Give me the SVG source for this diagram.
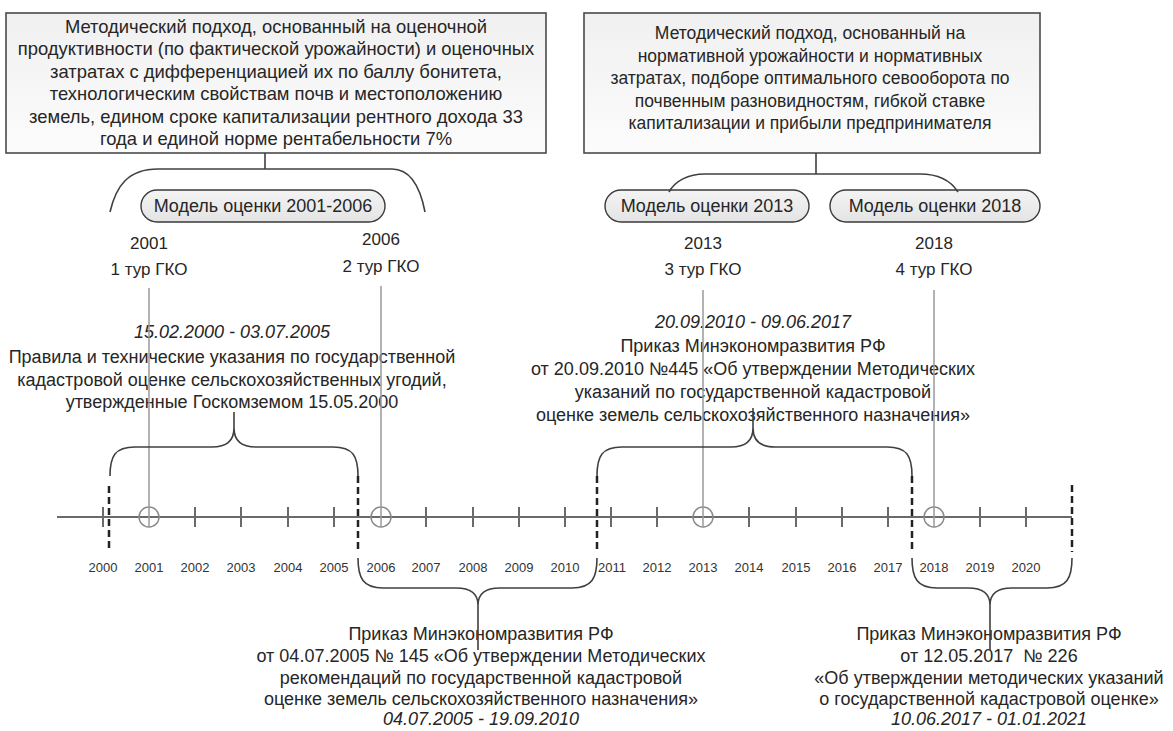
<svg xmlns="http://www.w3.org/2000/svg" width="1173" height="731" viewBox="0 0 1173 731">
<defs>
<linearGradient id="boxg" x1="0" y1="0" x2="0" y2="1"><stop offset="0" stop-color="#f0f0f0"/><stop offset="1" stop-color="#fcfcfc"/></linearGradient>
<linearGradient id="pillg" x1="0" y1="0" x2="0" y2="1"><stop offset="0" stop-color="#f4f4f4"/><stop offset="1" stop-color="#e4e4e4"/></linearGradient>
<style>
text{font-family:"Liberation Sans",Arial,sans-serif;fill:#262626;text-anchor:middle;dominant-baseline:central}
.b1{font-size:18.4px}
.b2{font-size:17.5px}
.pt{font-size:18px}
.tl{font-size:17px}
.t{font-size:18px}
.it{font-size:18px;font-style:italic}
.yr{font-size:13px;fill:#333}
.box{fill:url(#boxg);stroke:#4a4a4a;stroke-width:1.6}
.pill{fill:url(#pillg);stroke:#3a3a3a;stroke-width:1.4}
.con{fill:none;stroke:#404040;stroke-width:1.6}
.tour{stroke:#9a9a9a;stroke-width:1.5;fill:none}
.axis{stroke:#6a6a6a;stroke-width:2;fill:none}
.tick{stroke:#6a6a6a;stroke-width:2}
.circ{fill:none;stroke:#8a8a8a;stroke-width:1.5}
.dash{stroke:#222;stroke-width:2.5;stroke-dasharray:7 4;fill:none}
</style>
</defs>

<g id="box1">
<rect class="box" x="6" y="13" width="540" height="140"/>
<text class="b1" x="276" y="26">Методический подход, основанный на оценочной</text>
<text class="b1" x="276" y="48.5">продуктивности (по фактической урожайности) и оценочных</text>
<text class="b1" x="276" y="71">затратах с дифференциацией их по баллу бонитета,</text>
<text class="b1" x="276" y="93.5">технологическим свойствам почв и местоположению</text>
<text class="b1" x="276" y="116">земель, едином сроке капитализации рентного дохода 33</text>
<text class="b1" x="276" y="138.5">года и единой норме рентабельности 7%</text>
</g>

<g id="box2">
<rect class="box" x="584" y="13" width="456" height="140"/>
<text class="b2" x="810" y="33">Методический подход, основанный на</text>
<text class="b2" x="810" y="55.5">нормативной урожайности и нормативных</text>
<text class="b2" x="810" y="78">затратах, подборе оптимального севооборота по</text>
<text class="b2" x="810" y="100.5">почвенным разновидностям, гибкой ставке</text>
<text class="b2" x="810" y="123">капитализации и прибыли предпринимателя</text>
</g>

<g id="pill2001">
<rect class="pill" x="141" y="190" width="244" height="32" rx="16"/>
<text class="pt" x="263" y="206">Модель оценки 2001-2006</text>
</g>
<g id="pill2013">
<rect class="pill" x="605" y="190" width="204" height="32" rx="16"/>
<text class="pt" x="707" y="206">Модель оценки 2013</text>
</g>
<g id="pill2018">
<rect class="pill" x="830" y="190" width="210" height="32" rx="16"/>
<text class="pt" x="935" y="206">Модель оценки 2018</text>
</g>

<g id="tour1"><text class="tl" x="149" y="243">2001</text><text class="tl" x="149" y="269">1 тур ГКО</text></g>
<g id="tour2"><text class="tl" x="381" y="239">2006</text><text class="tl" x="381" y="266">2 тур ГКО</text></g>
<g id="tour3"><text class="tl" x="703" y="243">2013</text><text class="tl" x="703" y="269">3 тур ГКО</text></g>
<g id="tour4"><text class="tl" x="934" y="243">2018</text><text class="tl" x="934" y="269">4 тур ГКО</text></g>

<g id="doc1">
<text class="it" x="232" y="332">15.02.2000 - 03.07.2005</text>
<text class="t" x="232" y="357">Правила и технические указания по государственной</text>
<text class="t" x="232" y="380">кадастровой оценке сельскохозяйственных угодий,</text>
<text class="t" x="232" y="402">утвержденные Госкомземом 15.05.2000</text>
</g>

<g id="doc3">
<text class="it" x="753" y="322">20.09.2010 - 09.06.2017</text>
<text class="t" x="753" y="346">Приказ Минэкономразвития РФ</text>
<text class="t" x="753" y="369">от 20.09.2010 №445 «Об утверждении Методических</text>
<text class="t" x="753" y="392">указаний по государственной кадастровой</text>
<text class="t" x="753" y="415">оценке земель сельскохозяйственного назначения»</text>
</g>

<g id="doc2">
<text class="t" x="481" y="634">Приказ Минэкономразвития РФ</text>
<text class="t" x="481" y="656">от 04.07.2005 № 145 «Об утверждении Методических</text>
<text class="t" x="481" y="678">рекомендаций по государственной кадастровой</text>
<text class="t" x="481" y="699">оценке земель сельскохозяйственного назначения»</text>
<text class="it" x="481" y="719">04.07.2005 - 19.09.2010</text>
</g>

<g id="doc4">
<text class="t" x="989" y="634">Приказ Минэкономразвития РФ</text>
<text class="t" x="989" y="656" xml:space="preserve">от 12.05.2017  № 226</text>
<text class="t" x="989" y="678">«Об утверждении методических указаний</text>
<text class="t" x="989" y="699">о государственной кадастровой оценке»</text>
<text class="it" x="989" y="719">10.06.2017 - 01.01.2021</text>
</g>

<g id="timeline">
<line class="axis" x1="57" y1="517" x2="1072" y2="517"/>
<g class="tick">
<line x1="103" y1="507" x2="103" y2="527"/>
<line x1="195" y1="507" x2="195" y2="527"/>
<line x1="241" y1="507" x2="241" y2="527"/>
<line x1="288" y1="507" x2="288" y2="527"/>
<line x1="334" y1="507" x2="334" y2="527"/>
<line x1="426" y1="507" x2="426" y2="527"/>
<line x1="473" y1="507" x2="473" y2="527"/>
<line x1="519" y1="507" x2="519" y2="527"/>
<line x1="565" y1="507" x2="565" y2="527"/>
<line x1="611" y1="507" x2="611" y2="527"/>
<line x1="657" y1="507" x2="657" y2="527"/>
<line x1="749" y1="507" x2="749" y2="527"/>
<line x1="796" y1="507" x2="796" y2="527"/>
<line x1="842" y1="507" x2="842" y2="527"/>
<line x1="888" y1="507" x2="888" y2="527"/>
<line x1="980" y1="507" x2="980" y2="527"/>
<line x1="1026" y1="507" x2="1026" y2="527"/>
</g>
<circle class="circ" cx="149" cy="517" r="10"/>
<circle class="circ" cx="381" cy="517" r="10"/>
<circle class="circ" cx="703" cy="517" r="10"/>
<circle class="circ" cx="934" cy="517" r="10"/>
<g>
<text class="yr" x="103" y="567">2000</text>
<text class="yr" x="149" y="567">2001</text>
<text class="yr" x="195" y="567">2002</text>
<text class="yr" x="241" y="567">2003</text>
<text class="yr" x="288" y="567">2004</text>
<text class="yr" x="334" y="567">2005</text>
<text class="yr" x="381" y="567">2006</text>
<text class="yr" x="426" y="567">2007</text>
<text class="yr" x="473" y="567">2008</text>
<text class="yr" x="519" y="567">2009</text>
<text class="yr" x="565" y="567">2010</text>
<text class="yr" x="612" y="567">2011</text>
<text class="yr" x="657" y="567">2012</text>
<text class="yr" x="703" y="567">2013</text>
<text class="yr" x="749" y="567">2014</text>
<text class="yr" x="796" y="567">2015</text>
<text class="yr" x="842" y="567">2016</text>
<text class="yr" x="888" y="567">2017</text>
<text class="yr" x="934" y="567">2018</text>
<text class="yr" x="980" y="567">2019</text>
<text class="yr" x="1026" y="567">2020</text>
</g>
</g>

<g id="connectors">
<path class="con" d="M265,153 V169 M110,212 C116,186 128,169 158,169 L392,169 C410,169 420,186 425,212"/>
<path class="con" d="M816,153 V174 M669,192 C675,181 688,174 705,174 L920,174 C938,174 951,181 958,192"/>
<path class="tour" d="M149,288 V527 M381,286 V527 M703,290 V527 M934,290 V527"/>
<path class="con" d="M110,476 C110,456 115,447 135,447 L212,447 C228,447 234,440 234,428 C234,440 240,447 256,447 L333,447 C353,447 358,456 358,476 M234,428 V412"/>
<path class="con" d="M597,476 C597,456 602,447 622,447 L731,447 C747,447 753,440 753,428 C753,440 759,447 775,447 L887,447 C907,447 912,456 912,476 M753,428 V408"/>
<path class="con" d="M358,558 C358,578 363,588 383,588 L456,588 C472,588 478,595 478,605 C478,595 484,588 500,588 L572,588 C592,588 597,578 597,558 M478,605 V650"/>
<path class="con" d="M912,558 C912,578 917,588 937,588 L968,588 C984,588 990,595 990,605 C990,595 996,588 1012,588 L1047,588 C1067,588 1072,578 1072,558 M990,605 V650"/>
<path class="dash" d="M109,486 V552 M358,476 V552 M597,476 V552 M912,476 V552 M1072,485 V552"/>
</g>
</svg>
